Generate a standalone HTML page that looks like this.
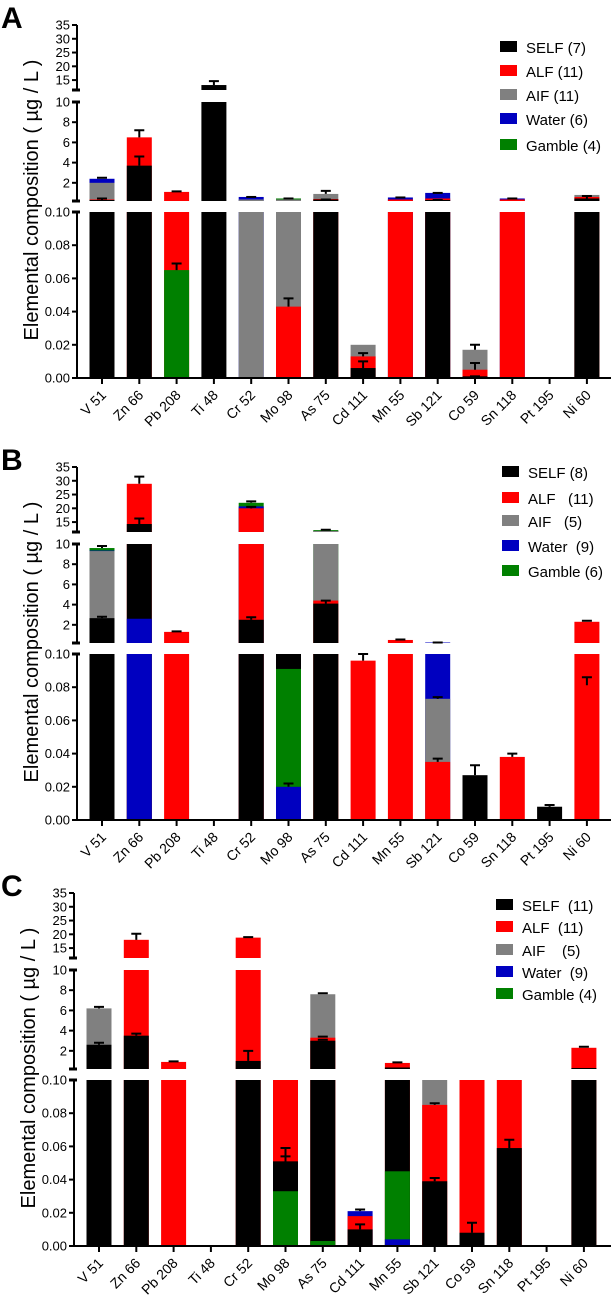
<!DOCTYPE html>
<html><head><meta charset="utf-8"><style>
body{margin:0;background:#fff;}
svg{display:block;font-family:"Liberation Sans",Arial,sans-serif;}
</style></head><body>
<svg id="chart" width="611" height="1299" viewBox="0 0 611 1299" xmlns="http://www.w3.org/2000/svg"></svg>
<script>
const categories=["V 51","Zn 66","Pb 208","Ti 48","Cr 52","Mo 98","As 75","Cd 111","Mn 55","Sb 121","Co 59","Sn 118","Pt 195","Ni 60"];
const seriesNames=["SELF","ALF","AIF","Water","Gamble"];
const legendA=["SELF (7)","ALF (11)","AIF (11)","Water (6)","Gamble (4)"];
const legendB=["SELF (8)","ALF   (11)","AIF   (5)","Water  (9)","Gamble (6)"];
const legendC=["SELF  (11)","ALF  (11)","AIF    (5)","Water  (9)","Gamble (4)"];
const ticksTop=[15,20,25,30,35];
const ticksMid=[2,4,6,8,10];
const ticksBot=[0,0.02,0.04,0.06,0.08,0.10];
// Panel A
const aSelf=[0.3,3.7,0,13.2,0,0,0.35,0.006,0,0.3,0.001,0,0,0.45];
const aAlf=[0.35,6.5,1.1,0,0,0.043,0.4,0.013,0.35,0.45,0.005,0.35,0,0.6];
const aAif=[2.0,0,0,0,0.35,0.35,0.9,0.02,0,0,0.017,0,0,0.8];
const aWater=[2.4,0,0,0,0.6,0,0,0,0.55,1.0,0,0.45,0,0];
const aGamble=[0,0,0.065,0,0,0.45,0,0,0,0,0,0,0,0];
const aErrSelf=[0.45,4.6,null,14.6,null,null,0.35,0.01,null,0.3,0.001,null,null,0.7];
const aErrAlf=[null,7.2,1.15,null,null,0.048,null,0.015,null,null,0.009,null,null,null];
const aErrAif=[null,null,null,null,null,null,1.2,null,null,null,0.02,null,null,null];
const aErrWater=[2.5,null,null,null,0.6,null,null,null,0.55,1.0,null,0.45,null,null];
const aErrGamble=[null,null,0.069,null,null,0.45,null,null,null,null,null,null,null,null];
// Panel B
const bSelf=[2.66,14.3,0,0,2.5,0.15,4.1,0,0,0,0.027,0,0.008,0];
const bAlf=[0,28.9,1.3,0,20,0,4.4,0.096,0.5,0.035,0,0.038,0,2.3];
const bAif=[9.3,0,0,0,0,0,11.8,0,0,0.073,0,0,0,0];
const bWater=[9.35,2.6,0,0,20.7,0.02,0,0,0,0.25,0,0,0,0];
const bGamble=[9.6,0,0,0,22,0.091,12.1,0,0,0,0,0,0,0];
const bErrSelf=[2.8,16.3,null,null,2.75,null,4.4,null,null,null,0.033,null,0.009,0.086];
const bErrAlf=[null,31.5,1.35,null,20.5,null,null,0.1,0.55,0.037,null,0.04,null,2.4];
const bErrAif=[null,null,null,null,null,null,null,null,null,0.074,null,null,null,null];
const bErrWater=[null,null,null,null,null,0.022,null,null,null,0.25,null,null,null,null];
const bErrGamble=[9.8,null,null,null,22.5,null,12.2,null,null,null,null,null,null,null];
// Panel C
const cSelf=[2.6,3.5,0,0,1.0,0.051,3.0,0.01,0.35,0.039,0.008,0.059,0,0.3];
const cAlf=[0,18,0.9,0,18.8,0.15,3.3,0.018,0.8,0.085,0.15,0.15,0,2.3];
const cAif=[6.2,0,0,0,0,0,7.6,0,0,0.15,0,0,0,0];
const cWater=[0,0,0,0,0,0,0,0.021,0.004,0,0,0,0,0];
const cGamble=[0,0,0,0,0,0.033,0.003,0,0.045,0,0,0,0,0];
const cErrSelf=[2.8,3.7,null,null,2.0,0.059,3.1,0.013,null,0.041,0.014,0.064,null,null];
const cErrAlf=[null,20.2,0.95,null,19,0.054,3.4,null,0.85,0.086,null,null,null,2.4];
const cErrAif=[6.35,null,null,null,null,null,7.7,null,null,null,null,null,null,null];
const cErrWater=[null,null,null,null,null,null,null,0.022,null,null,null,null,null,null];

const colors=["#000000","#ff0000","#808080","#0000c0","#008000"];
const NS="http://www.w3.org/2000/svg";
const svg=document.getElementById('chart');
function mk(tag,attrs,parent){const e=document.createElementNS(NS,tag);for(const k in attrs)e.setAttribute(k,attrs[k]);(parent||svg).appendChild(e);return e;}

const panels=[
 {letter:"A",dy:0,dx:0,vals:[aSelf,aAlf,aAif,aWater,aGamble],errs:[aErrSelf,aErrAlf,aErrAif,aErrWater,aErrGamble],legend:legendA,lx:500,ly:[47,71,95,119,145]},
 {letter:"B",dy:442,dx:0,vals:[bSelf,bAlf,bAif,bWater,bGamble],errs:[bErrSelf,bErrAlf,bErrAif,bErrWater,bErrGamble],legend:legendB,lx:502,ly:[30,56,79,104,129]},
 {letter:"C",dy:868,dx:-3,vals:[cSelf,cAlf,cAif,cWater,cGamble],errs:[cErrSelf,cErrAlf,cErrAif,cErrWater,[]],legend:legendC,lx:499,ly:[37,59,82,104,126]}
];
const segs=[{lo:0,hi:0.1,y0:378,y1:212},{lo:0.2,hi:10,y0:201,y1:102},{lo:11.4,hi:35,y0:90,y1:25}];
function yIn(seg,v){return seg.y0-(v-seg.lo)/(seg.hi-seg.lo)*(seg.y0-seg.y1);}
function segOf(v){if(v<=0.1)return segs[0];if(v<=10)return segs[1];return segs[2];}
const axisX=77, pitch=37.3, firstX=102, barW=25;
function xc(i){return firstX+i*pitch;}

panels.forEach((p,pi)=>{
 const g=mk('g',{transform:`translate(${p.dx},${p.dy})`});
 
 
 const lt=mk('text',{x:-p.dx+1,y:28,'font-size':30,'font-weight':'bold'},g);lt.textContent=p.letter;
 
 categories.forEach((c,i)=>{
  const order=[0,1,2,3,4].filter(s=>p.vals[s][i]>0).sort((a,b)=>p.vals[b][i]-p.vals[a][i]);
  order.forEach(s=>{
   const v=p.vals[s][i];
   segs.forEach(sg=>{
    if(v>sg.lo){
     const top=yIn(sg,Math.min(v,sg.hi));
     const r=mk('rect',{x:xc(i)-barW/2,y:top,width:barW,height:sg.y0-top,fill:colors[s]},g);
     
     
    }
   });
  });
 });
 categories.forEach((c,i)=>{
  for(let s=0;s<5;s++){
   const e=p.errs[s][i];
   if(e==null)continue;
   const v=p.vals[s][i];
   const sg=segOf(e);
   const ye=yIn(sg,Math.min(e,sg.hi));
   let yv;
   if(v>e||v<=0) yv=ye+8;
   else yv=(v>=sg.lo)?yIn(sg,Math.min(v,sg.hi)):sg.y0;
   const eg=mk('path',{d:`M${xc(i)},${yv}V${ye}M${xc(i)-5},${ye}H${xc(i)+5}`,stroke:'#000','stroke-width':2,fill:'none'},g);
   
   
  }
 });
 const ticksets=[ticksBot,ticksMid,ticksTop];
 segs.forEach((sg,k)=>{
  const al=mk('line',{x1:axisX,x2:axisX,y1:sg.y0+(k==0?1:0),y2:sg.y1,stroke:'#000','stroke-width':2},g);
  
  if(k>0){mk('line',{x1:axisX-5,x2:axisX+3,y1:sg.y0,y2:sg.y0,stroke:'#000','stroke-width':3},g);}
  if(k<2){mk('line',{x1:axisX-5,x2:axisX+3,y1:sg.y1,y2:sg.y1,stroke:'#000','stroke-width':3},g);}
  ticksets[k].forEach(t=>{
   const y=yIn(sg,t);
   mk('line',{x1:axisX-5,x2:axisX,y1:y,y2:y,stroke:'#000','stroke-width':2},g);
   const tx=mk('text',{x:axisX-7,y:y+4.5,'font-size':13,'text-anchor':'end'},g);
   tx.textContent=k==0?t.toFixed(2):String(t);
   
  });
 });
 const xa=mk('line',{x1:axisX-1,x2:611-p.dx,y1:378,y2:378,stroke:'#000','stroke-width':2},g);
 
 categories.forEach((c,i)=>{
  mk('line',{x1:xc(i),x2:xc(i),y1:378,y2:384,stroke:'#000','stroke-width':2},g);
  const tx=mk('text',{x:xc(i)+5,y:396,'font-size':14,'text-anchor':'end',transform:`rotate(-45 ${xc(i)+5} 396)`},g);
  tx.textContent=c;
  
 });
 const yt=mk('text',{x:0,y:0,'font-size':20,'text-anchor':'middle',transform:'translate(38,200) rotate(-90)'},g);
 yt.textContent='Elemental composition ( µg / L )';
 
 p.legend.forEach((l,k)=>{
  const lg=mk('g',{},g);
  
  
  mk('rect',{x:p.lx,y:p.ly[k]-6,width:17,height:11,fill:colors[k]},lg);
  const tx=mk('text',{x:p.lx+26,y:p.ly[k]+6,'font-size':15},lg);
  tx.style.whiteSpace='pre';
  tx.textContent=l;
 });
});
</script>
</body></html>
